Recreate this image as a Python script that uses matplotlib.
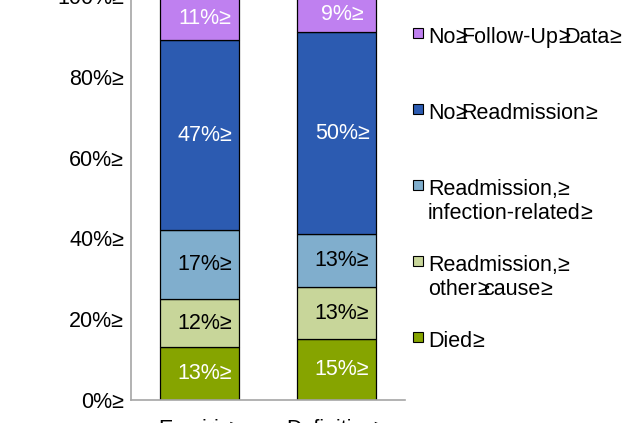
import matplotlib.pyplot as plt
from matplotlib.patches import Rectangle

plt.rcParams['font.family'] = ['Liberation Sans', 'DejaVu Sans']

# Outcomes by therapy group (percent of patients), stacked bottom to top
groups = ["Empiric≥", "Definitive≥"]
outcomes = ["Died≥", "Readmission,≥\nother≥cause≥", "Readmission,≥\ninfection-related≥",
            "No≥Readmission≥", "No≥Follow-Up≥Data≥"]
died = [13, 15]
readmit_other = [12, 13]
readmit_infection = [17, 13]
no_readmit = [47, 50]
no_followup = [11, 9]
yticks = [0, 20, 40, 60, 80, 100]
ytick_labels = ["0%≥", "20%≥", "40%≥", "60%≥", "80%≥", "100%≥"]

series = [died, readmit_other, readmit_infection, no_readmit, no_followup]
colors = ["#86a400", "#c8d69a", "#80aecd", "#2c5bb1", "#bf80f0"]
text_colors = ["white", "black", "black", "white", "white"]
FS = 15.5

fig = plt.figure(figsize=(6.28, 4.23), dpi=100)
ax = fig.add_axes([0.2086, 0.0544, 0.4363, 0.955])

x = [0, 1]
bottom = [0, 0]
for vals, col, tc in zip(series, colors, text_colors):
    ax.bar(x, vals, width=0.577, bottom=bottom, color=col,
           edgecolor="black", linewidth=0.9)
    for xi, v, b in zip(x, vals, bottom):
        ax.annotate(f"{v}%≥", (xi, b + v / 2), xytext=(4, 0),
                    textcoords="offset points", ha="center", va="center",
                    color=tc, fontsize=FS)
    bottom = [b + v for b, v in zip(bottom, vals)]

ax.set_xlim(-0.5, 1.5)
ax.set_ylim(0, 100)
ax.set_yticks(yticks)
ax.set_yticklabels(ytick_labels)
ax.set_xticks(x)
ax.set_xticklabels(groups)
ax.tick_params(axis="y", length=0, pad=5, labelsize=FS)
ax.tick_params(axis="x", length=0, pad=14, labelsize=FS)
for side in ["top", "right"]:
    ax.spines[side].set_visible(False)
for side in ["left", "bottom"]:
    ax.spines[side].set_color("#a6a6a6")
    ax.spines[side].set_linewidth(1.2)

# legend drawn by hand; the ≥ marks take only a space's advance
W, H = 628, 423
renderer = fig.canvas.get_renderer()
space = 0.278 * FS * 100 / 72


def draw_line(x0, yb, line):
    xp = x0
    parts = line.split("≥")
    for j, part in enumerate(parts):
        if part:
            t = fig.text(xp / W, 1 - yb / H, part, ha="left", va="baseline", fontsize=FS)
            xp += t.get_window_extent(renderer).width
        if j < len(parts) - 1:
            fig.text(xp / W, 1 - yb / H, "≥", ha="left", va="baseline", fontsize=FS)
            xp += space


for i, (lab, col) in enumerate(zip(outcomes[::-1], colors[::-1])):
    yc = 33 + i * 76
    fig.patches.append(Rectangle((413 / W, 1 - (yc + 5) / H), 10 / W, 10 / H,
                                 transform=fig.transFigure, facecolor=col,
                                 edgecolor="black", linewidth=0.8))
    for k, line in enumerate(lab.split("\n")):
        draw_line(428, yc + 10 + k * 24, line)

fig.savefig("out.png", dpi=100)
